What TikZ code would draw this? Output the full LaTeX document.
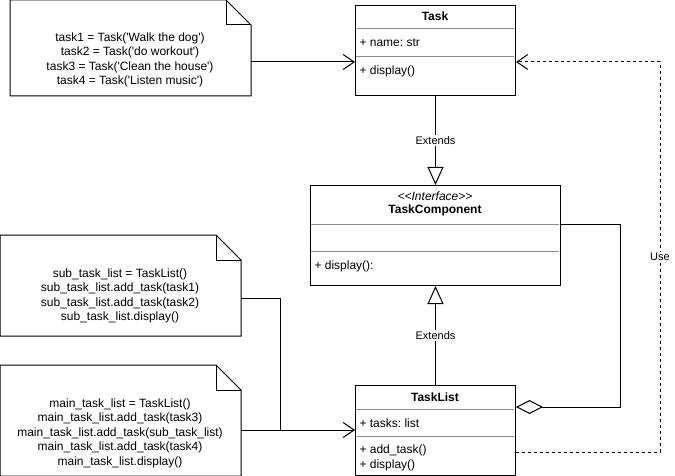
\documentclass[tikz,border=0pt]{standalone}
\usepackage{fontspec}
\newfontfamily\arialf{Liberation Sans}
\frenchspacing
\usetikzlibrary{arrows.meta,calc}
\begin{document}
\begin{tikzpicture}[x=1pt,y=-1pt,line width=1pt,
  every node/.style={font=\arialf\fontsize{12}{14.5}\selectfont,inner sep=0pt},
  box/.style={draw,anchor=north west,inner sep=0pt},
  notebox/.style={anchor=north west,inner sep=0pt},
  sep/.style={draw=black!45,line width=1pt},
  member/.style={anchor=west},
  title/.style={font=\arialf\bfseries\fontsize{12}{14.5}\selectfont},
  notetext/.style={align=center},
  lbl/.style={fill=white,inner sep=1.5pt,font=\arialf\fontsize{11}{13}\selectfont},
  openarrow/.style={-{Straight Barb[length=11pt,width=15pt]}},
  extends/.style={-{Triangle[open,length=18pt,width=16pt]}},
  agg/.style={{Diamond[open,length=27pt,width=14pt]}-},
  usedash/.style={dash pattern=on 3pt off 3pt}
]
\useasboundingbox (0,0) rectangle (675,476);

% ---------- notes ----------
\node[notebox,minimum width=240pt,minimum height=95pt] (tnote) at (10,0) {};
\node[notebox,minimum width=240pt,minimum height=100pt] (snote) at (0,235) {};
\node[notebox,minimum width=240pt,minimum height=110pt] (mnote) at (0,365) {};
\foreach \n in {tnote,snote,mnote}{
  \draw (\n.north west) -- ([xshift=-25pt]\n.north east) -- ([yshift=-25pt]\n.north east)
        -- (\n.south east) -- (\n.south west) -- cycle;
  \draw ([xshift=-25pt]\n.north east) -- ([xshift=-25pt,yshift=-25pt]\n.north east)
        -- ([yshift=-25pt]\n.north east);
}
\node[notetext] (tnotetxt) at (130,60) {task1 = Task('Walk the dog')\\task2 = Task('do workout')\\task3 = Task('Clean the house')\\task4 = Task('Listen music')};
\node[notetext] (snotetxt) at (120,296) {sub\_task\_list = TaskList()\\sub\_task\_list.add\_task(task1)\\sub\_task\_list.add\_task(task2)\\sub\_task\_list.display()};
\node[notetext] (mnotetxt) at (120,433) {main\_task\_list = TaskList()\\main\_task\_list.add\_task(task3)\\main\_task\_list.add\_task(sub\_task\_list)\\main\_task\_list.add\_task(task4)\\main\_task\_list.display()};

% ---------- Task ----------
\node[box,minimum width=160pt,minimum height=90pt] (task) at (355,5) {};
\draw[sep] (356,29) -- (514,29);
\draw[sep] (356,57) -- (514,57);
\node[title] (tasktitle) at (435,16) {Task};
\node[member] (taskname) at (359,43) {+ name: str};
\node[member] (taskdisp) at (359,71) {+ display()};

% ---------- TaskComponent ----------
\node[box,minimum width=250pt,minimum height=100pt] (tc) at (310,185) {};
\draw[sep] (311,224) -- (559,224);
\draw[sep] (311,251) -- (559,251);
\node[font=\arialf\itshape\fontsize{12}{14.5}\selectfont] (tcstereo) at (435,196) {<<Interface>>};
\node[title] (tctitle) at (435,210) {TaskComponent};
\node[member] (tcdisp) at (314,266) {+ display():};

% ---------- TaskList ----------
\node[box,minimum width=160pt,minimum height=90pt] (tl) at (355,385) {};
\draw[sep] (356,409) -- (514,409);
\draw[sep] (356,436) -- (514,436);
\node[title] (tltitle) at (435,397) {TaskList};
\node[member] (tltasks) at (359,423) {+ tasks: list};
\node[member,align=left] (tlops) at (359,458) {+ add\_task()\\+ display()};

% ---------- helper coordinates ----------
\coordinate (ytask) at (0,62);
\coordinate (ysub) at (0,298);
\coordinate (ymain) at (0,430);
\coordinate (yagg) at (0,407);
\coordinate (ytcsep) at (0,224);
\coordinate (yuse) at (0,452);
\coordinate (xagg) at (620,0);
\coordinate (xuse) at (660,0);
\coordinate (xjoin) at (280,0);

% ---------- connectors ----------
\draw[openarrow] (tnote.east |- ytask) -- (task.west |- ytask);
\draw[extends] (task.south) -- node[lbl] (ext1) {Extends} (tc.north);
\draw[extends] (tl.north) -- node[lbl] (ext2) {Extends} (tc.south);
\draw[agg] (tl.east |- yagg) -- (xagg |- yagg) -- (xagg |- ytcsep) -- (tc.east |- ytcsep);
\draw[usedash,openarrow] (tl.east |- yuse) -- (xuse |- yuse)
   -- node[lbl,pos=0.5] (uselbl) {Use} (xuse |- ytask) -- (task.east |- ytask);
\draw (snote.east |- ysub) -- (xjoin |- ysub) -- (xjoin |- ymain);
\draw[openarrow] (mnote.east |- ymain) -- (tl.west |- ymain);
\end{tikzpicture}
\end{document}
